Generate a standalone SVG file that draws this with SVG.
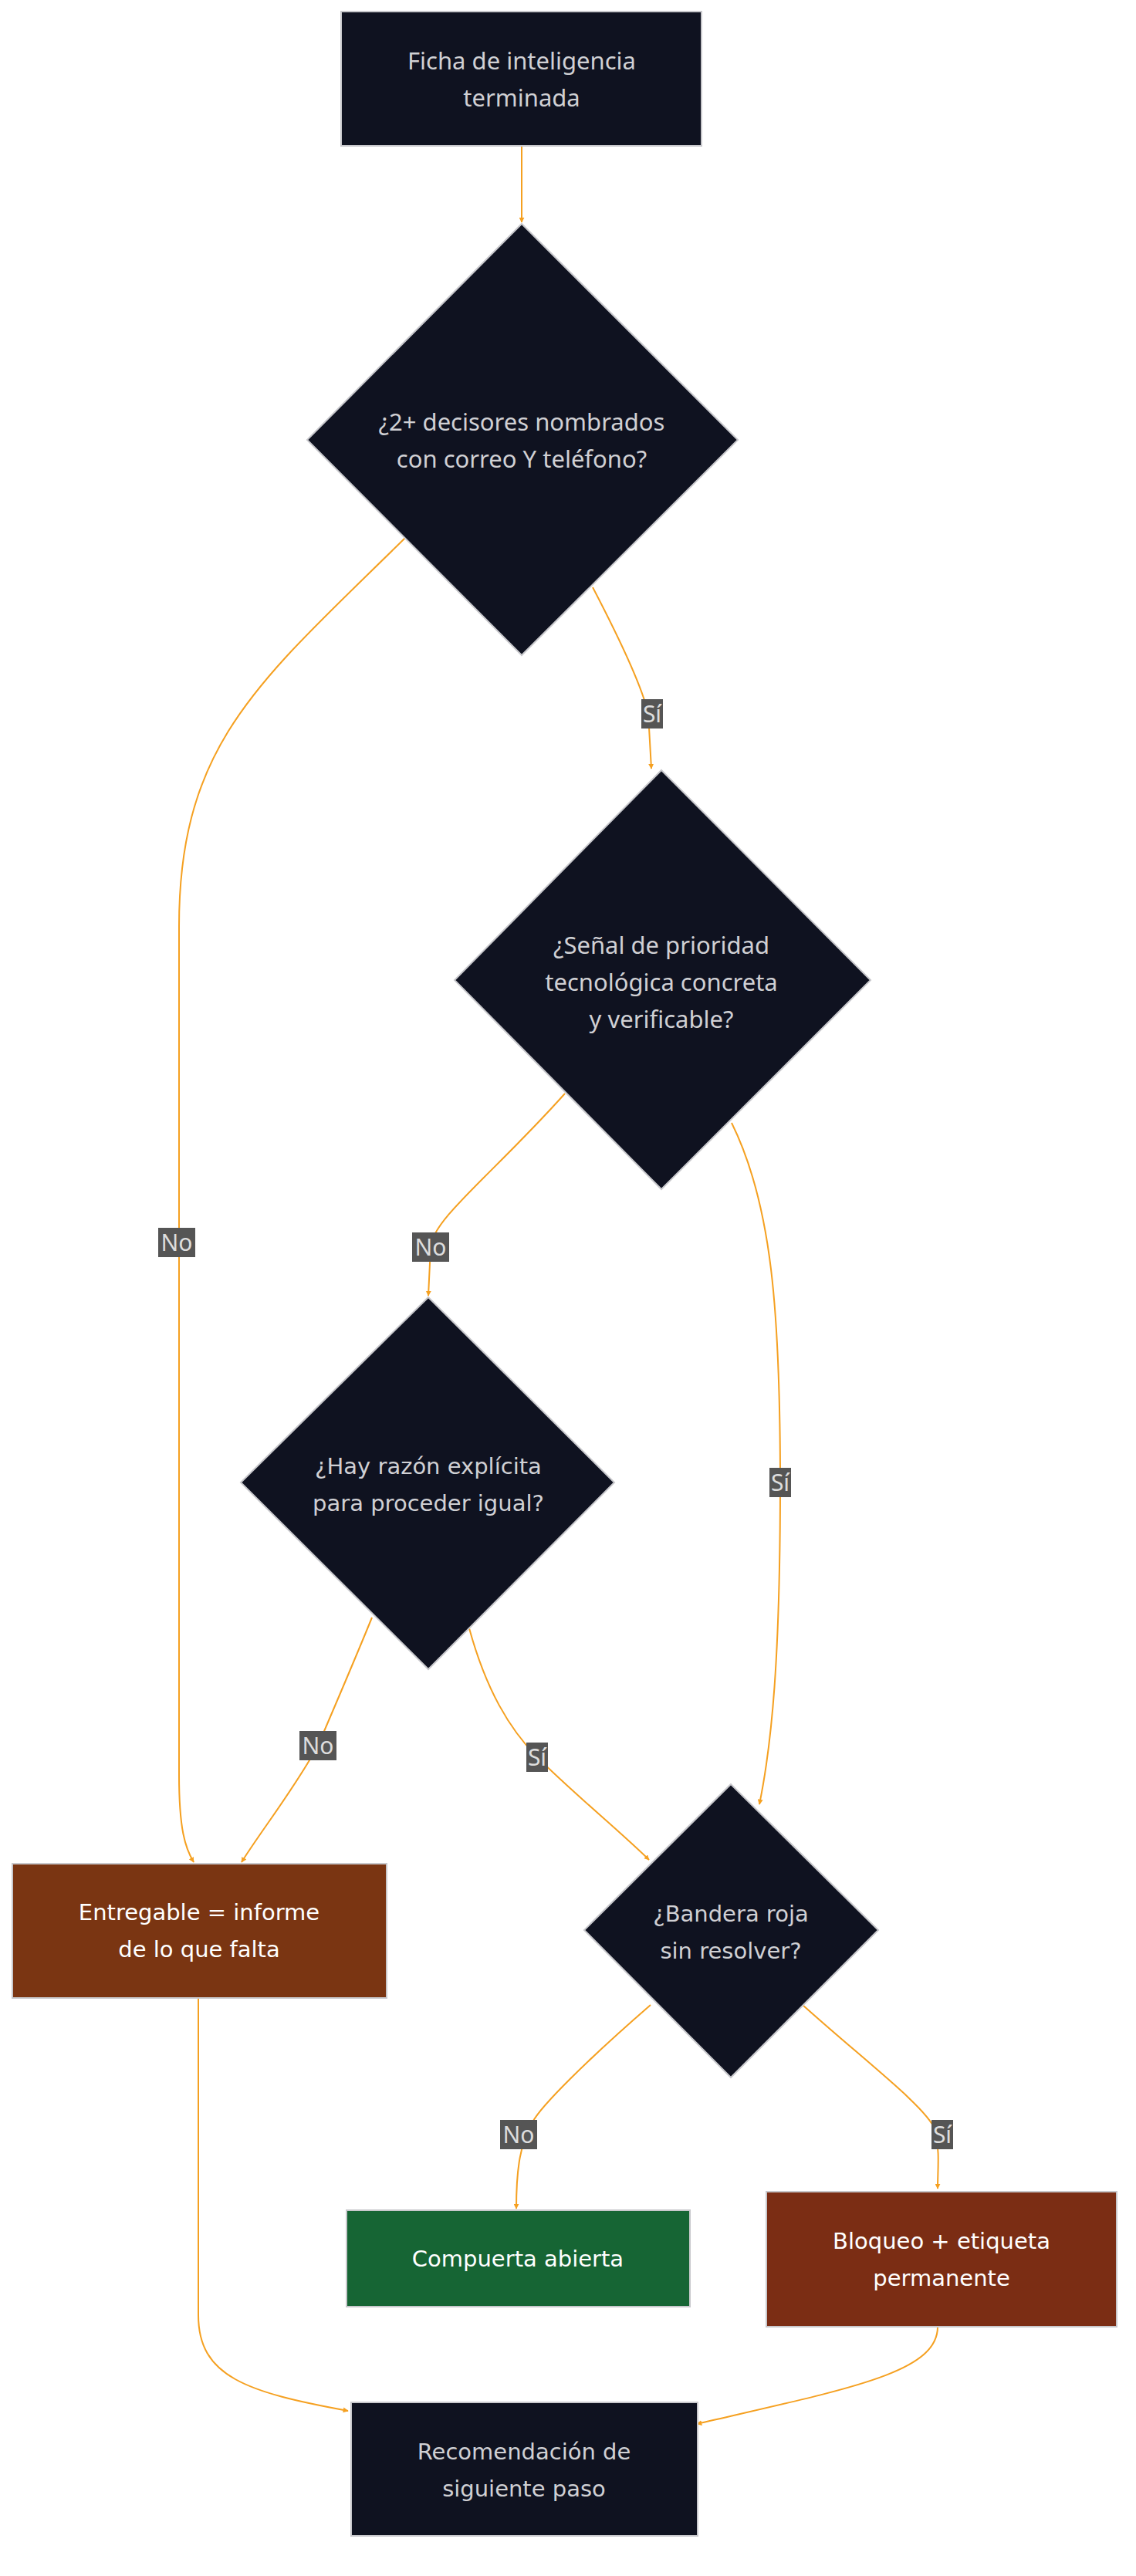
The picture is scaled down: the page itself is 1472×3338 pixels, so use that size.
<svg xmlns="http://www.w3.org/2000/svg" width="1472" height="3338" viewBox="0 0 1472 3338">
<style>
.dk{fill:#0f1220;stroke:#c8c8cc;stroke-width:2}
.br{fill:#7a3512;stroke:#c8c8cc;stroke-width:2}
.rd{fill:#7b2d14;stroke:#c8c8cc;stroke-width:2}
.gr{fill:#166534;stroke:#c8c8cc;stroke-width:2}
.t1{font-family:"Noto Sans","Open Sans",sans-serif;font-size:31px;fill:#d0d0d4;text-anchor:middle}
.t2{font-family:"DejaVu Sans","Verdana",sans-serif;font-size:29px;fill:#d0d0d4;text-anchor:middle}
.tw{fill:#ffffff}
.e{fill:none;stroke:#f5a020;stroke-width:2;marker-end:url(#ah)}
.lb{fill:#555555}
.lt{font-family:"Noto Sans",sans-serif;font-size:30px;fill:#dddddd;text-anchor:middle}
</style>
<defs>
<marker id="ah" viewBox="0 0 10 10" refX="9" refY="5" markerWidth="7" markerHeight="7" orient="auto" markerUnits="userSpaceOnUse">
<path d="M0,0 L10,5 L0,10 z" fill="#f5a020"/>
</marker>
</defs>
<g id="edges">
<path class="e" d="M676,189 L676,288"/>
<path class="e" d="M526,696 C340,880 232,960 232,1200 L232,2300 C232,2370 240,2395 251,2413"/>
<path class="e" d="M768,761 Q830,880 840,925 L844,996"/>
<path class="e" d="M732,1417 C640,1520 560,1580 558,1616 L555,1679"/>
<path class="e" d="M948,1455 C1000,1560 1011,1700 1011,1921 C1011,2150 1000,2260 984,2338"/>
<path class="e" d="M482,2096 C460,2150 430,2220 412,2262 C380,2320 340,2370 313,2413"/>
<path class="e" d="M608,2110 C630,2190 660,2240 696,2277 C750,2330 800,2370 841,2410"/>
<path class="e" d="M257,2589 L257,3000 C257,3080 320,3100 451,3124"/>
<path class="e" d="M843,2598 C760,2670 700,2730 690,2750 C672,2780 669,2820 669,2862"/>
<path class="e" d="M1040,2598 C1120,2670 1200,2730 1212,2760 C1218,2790 1215,2810 1215,2836"/>
<path class="e" d="M1215,3015 C1215,3075 1100,3095 903,3141"/>
</g>
<g id="labels">
<rect class="lb" x="205" y="1591" width="48" height="38"/><text class="lt" x="229" y="1621">No</text>
<rect class="lb" x="831" y="906" width="28" height="38"/><text class="lt" x="845" y="936">Sí</text>
<rect class="lb" x="534" y="1597" width="48" height="38"/><text class="lt" x="558" y="1627">No</text>
<rect class="lb" x="997" y="1902" width="28" height="38"/><text class="lt" x="1011" y="1932">Sí</text>
<rect class="lb" x="388" y="2243" width="48" height="38"/><text class="lt" x="412" y="2273">No</text>
<rect class="lb" x="682" y="2258" width="28" height="38"/><text class="lt" x="696" y="2288">Sí</text>
<rect class="lb" x="648" y="2747" width="48" height="38"/><text class="lt" x="672" y="2777">No</text>
<rect class="lb" x="1207" y="2747" width="28" height="38"/><text class="lt" x="1221" y="2777">Sí</text>
</g>
<g id="n_ficha">
<rect class="dk" x="442" y="15" width="467" height="174"/>
<text class="t1" x="676" y="90">Ficha de inteligencia</text>
<text class="t1" x="676" y="138">terminada</text>
</g>
<g id="n_d1">
<polygon class="dk" points="676,290 956,570 676,849 398,570"/>
<text class="t1" x="676" y="558">¿2+ decisores nombrados</text>
<text class="t1" x="676" y="606">con correo Y teléfono?</text>
</g>
<g id="n_d2">
<polygon class="dk" points="857,998 1128,1270 857,1541 589,1270"/>
<text class="t1" x="857" y="1236">¿Señal de prioridad</text>
<text class="t1" x="857" y="1284">tecnológica concreta</text>
<text class="t1" x="857" y="1332">y verificable?</text>
</g>
<g id="n_d3">
<polygon class="dk" points="555,1681 796,1921 555,2163 312,1921"/>
<text class="t2" x="555" y="1910">¿Hay razón explícita</text>
<text class="t2" x="555" y="1958">para proceder igual?</text>
</g>
<g id="n_entregable">
<rect class="br" x="16" y="2415" width="485" height="174"/>
<text class="t2 tw" x="258" y="2488">Entregable = informe</text>
<text class="t2 tw" x="258" y="2536">de lo que falta</text>
</g>
<g id="n_d4">
<polygon class="dk" points="947,2312 1138,2501 947,2692 757,2501"/>
<text class="t2" x="947" y="2490">¿Bandera roja</text>
<text class="t2" x="947" y="2538">sin resolver?</text>
</g>
<g id="n_compuerta">
<rect class="gr" x="449" y="2864" width="445" height="125"/>
<text class="t2 tw" x="671" y="2937">Compuerta abierta</text>
</g>
<g id="n_bloqueo">
<rect class="rd" x="993" y="2840" width="454" height="175"/>
<text class="t2 tw" x="1220" y="2914">Bloqueo + etiqueta</text>
<text class="t2 tw" x="1220" y="2962">permanente</text>
</g>
<g id="n_recom">
<rect class="dk" x="455" y="3113" width="449" height="173"/>
<text class="t2" x="679" y="3187">Recomendación de</text>
<text class="t2" x="679" y="3235">siguiente paso</text>
</g>
</svg>
